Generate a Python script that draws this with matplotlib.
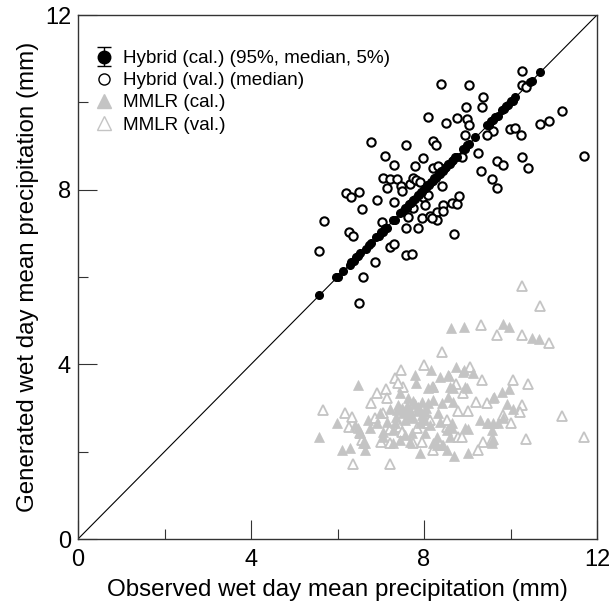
import matplotlib
matplotlib.use("Agg")
import matplotlib.pyplot as plt
from matplotlib.lines import Line2D
import numpy as np

plt.rcParams['font.family'] = ['Liberation Sans', 'DejaVu Sans']

# ---- data (mm) ----
hyb_cal_obs = [5.57, 5.97, 6.02, 6.12, 6.28, 6.32, 6.38, 6.43, 6.48, 6.52, 6.66, 6.72, 6.78,
               6.90, 6.95, 7.00, 7.05, 7.10, 7.14, 7.28, 7.32, 7.45, 7.50, 7.55, 7.60, 7.65,
               7.70, 7.75, 7.80, 7.85, 7.88, 7.92, 7.96, 8.00, 8.04, 8.08, 8.12, 8.16, 8.20,
               8.24, 8.28, 8.32, 8.36, 8.40, 8.44, 8.48, 8.52, 8.56, 8.60, 8.64, 8.68, 8.72,
               8.76, 8.90, 8.95, 9.00, 9.05, 9.18, 9.45, 9.50, 9.55, 9.60, 9.65, 9.70, 9.80,
               9.85, 9.90, 9.95, 10.00, 10.05, 10.10, 10.45, 10.50, 10.68]
hyb_cal_med = [5.59, 5.99, 6.01, 6.14, 6.27, 6.34, 6.37, 6.45, 6.47, 6.54, 6.65, 6.74, 6.77,
               6.92, 6.94, 7.02, 7.04, 7.12, 7.13, 7.30, 7.31, 7.47, 7.49, 7.57, 7.59, 7.67,
               7.69, 7.77, 7.79, 7.87, 7.87, 7.94, 7.95, 8.02, 8.03, 8.10, 8.11, 8.18, 8.19,
               8.26, 8.27, 8.34, 8.35, 8.42, 8.43, 8.50, 8.51, 8.58, 8.59, 8.66, 8.67, 8.74,
               8.75, 8.92, 8.94, 9.02, 9.04, 9.20, 9.47, 9.49, 9.57, 9.59, 9.67, 9.69, 9.82,
               9.84, 9.92, 9.94, 10.02, 10.04, 10.12, 10.47, 10.49, 10.70]
hyb_cal_err = 0.06

hyb_val_obs = [9.04, 10.27, 10.27, 10.36, 8.39, 9.36, 8.97, 9.34, 8.09, 8.51, 8.76, 8.99, 9.04,
               11.19, 10.89, 10.68, 9.99, 10.10, 10.24, 9.60, 9.46, 8.95, 6.77, 7.58, 8.21,
               8.28, 7.10, 7.31, 7.98, 7.79, 8.21, 8.32, 8.88, 9.25, 11.70, 9.69, 9.83, 10.27,
               10.40, 9.32, 9.57, 9.69, 7.05, 7.21, 7.38, 7.14, 7.47, 7.49, 7.68, 7.75, 7.82,
               7.91, 6.20, 6.31, 6.50, 6.57, 6.91, 7.31, 7.98, 8.09, 8.02, 7.75, 7.63, 7.95,
               8.14, 8.30, 8.44, 8.65, 8.76, 8.81, 8.30, 8.18, 7.58, 7.86, 7.03, 8.69, 5.69,
               6.27, 6.36, 5.57, 7.21, 7.31, 7.58, 7.72, 6.87, 6.59, 6.50, 8.42, 8.44]
hyb_val_med = [10.40, 10.72, 10.40, 10.35, 10.42, 10.12, 9.89, 9.89, 9.66, 9.53, 9.64, 9.62, 9.48,
               9.80, 9.57, 9.50, 9.39, 9.41, 9.25, 9.34, 9.25, 9.25, 9.09, 9.02, 9.11,
               9.02, 8.77, 8.56, 8.72, 8.54, 8.50, 8.54, 8.75, 8.84, 8.77, 8.66, 8.56, 8.75,
               8.50, 8.43, 8.24, 8.04, 8.27, 8.24, 8.24, 8.04, 8.08, 7.97, 8.13, 8.27, 8.22,
               8.18, 7.92, 7.83, 7.95, 7.56, 7.76, 7.72, 7.83, 7.88, 7.65, 7.58, 7.37, 7.35,
               7.40, 7.49, 7.65, 7.69, 7.67, 7.85, 7.30, 7.35, 7.12, 7.12, 7.26, 6.98, 7.28,
               7.03, 6.94, 6.59, 6.69, 6.76, 6.50, 6.53, 6.34, 6.00, 5.40, 8.08, 7.51]

mmlr_cal_obs = [8.62, 8.92, 9.83, 9.97, 10.50, 10.66, 6.47, 7.79, 8.16, 8.37, 8.58, 8.74, 8.92,
                9.13, 8.99, 9.62, 9.80, 9.97, 9.92, 10.06, 9.60, 9.48, 9.71, 5.99, 6.10, 6.29,
                5.57, 7.91, 8.69, 9.02, 8.30, 9.57, 7.28, 6.64, 9.60, 9.83, 9.29, 9.46, 9.57,
                9.02, 8.95, 8.65, 8.65, 8.60, 9.60, 8.42, 8.42, 8.55, 8.67, 8.67, 8.60, 8.95,
                8.90, 8.55, 7.82, 8.09, 8.21, 7.45, 7.63, 7.95, 8.21, 6.98, 7.21, 7.38, 7.51,
                7.68, 7.86, 8.02, 8.32, 6.71, 6.91, 7.14, 7.33, 7.56, 7.75, 7.91, 8.14, 8.37,
                6.40, 6.47, 6.52, 6.75, 7.05, 7.28, 7.56, 7.72, 8.02, 8.30, 8.53, 6.59, 7.05,
                7.45, 7.68, 8.21, 8.44, 6.64, 8.53, 7.60, 7.80, 7.95, 8.05, 7.70, 7.40, 7.85,
                7.50, 7.65, 7.90, 8.10, 7.35, 7.75, 8.00]
mmlr_cal_gen = [4.83, 4.85, 4.92, 4.85, 4.60, 4.58, 3.53, 3.76, 3.87, 3.71, 3.73, 3.94, 3.87,
                3.80, 3.46, 3.25, 3.37, 3.43, 3.09, 2.98, 2.66, 2.66, 2.66, 2.66, 2.04, 2.08,
                2.34, 1.97, 1.90, 1.97, 2.15, 2.20, 2.20, 2.20, 3.23, 2.77, 2.72, 2.66, 2.50,
                2.52, 2.54, 2.54, 2.66, 2.34, 2.29, 2.15, 3.11, 3.25, 3.14, 3.46, 3.48, 3.48,
                3.82, 3.76, 3.57, 3.46, 3.48, 3.34, 3.23, 3.14, 3.18, 2.89, 2.98, 2.95, 2.89,
                2.95, 3.02, 2.91, 2.89, 2.72, 2.66, 2.68, 2.66, 2.72, 2.77, 2.66, 2.61, 2.68,
                2.61, 2.54, 2.43, 2.54, 2.45, 2.50, 2.38, 2.43, 2.43, 2.34, 2.50, 2.20, 2.34,
                2.27, 2.22, 2.20, 2.15, 2.04, 2.04, 3.05, 3.10, 2.85, 3.00, 2.82, 3.08, 2.93,
                3.00, 2.88, 2.95, 3.12, 2.80, 3.15, 2.75]

mmlr_val_obs = [10.27, 10.68, 9.32, 9.69, 10.27, 10.89, 8.42, 8.00, 7.47, 7.33, 7.51, 9.06, 9.34,
                10.06, 10.40, 8.21, 8.74, 6.91, 7.12, 7.14, 6.77, 5.66, 6.17, 6.34, 6.87, 9.20,
                9.46, 9.02, 8.79, 10.27, 10.22, 9.83, 11.19, 10.01, 6.27, 6.52, 6.57, 7.01, 7.21,
                7.75, 8.21, 7.95, 8.79, 9.36, 9.57, 10.36, 11.70, 9.25, 6.36, 7.21, 8.53, 7.45,
                8.09, 7.40, 7.21, 7.05, 8.14, 7.84, 7.49, 8.90, 8.53, 8.88]
mmlr_val_gen = [5.79, 5.34, 4.90, 4.67, 4.67, 4.49, 4.28, 3.98, 3.87, 3.69, 3.48, 3.94, 3.64,
                3.64, 3.55, 3.48, 3.55, 3.34, 3.43, 3.23, 3.11, 2.95, 2.89, 2.79, 2.77, 3.14,
                3.11, 2.93, 2.93, 3.07, 2.91, 2.84, 2.82, 2.66, 2.56, 2.43, 2.27, 2.22, 2.20,
                2.20, 2.04, 2.22, 2.34, 2.22, 2.27, 2.29, 2.34, 2.04, 1.72, 1.72, 2.56, 2.56,
                2.66, 3.57, 2.52, 2.89, 2.72, 2.54, 2.45, 3.34, 2.72, 2.34]

axis_lim = [0, 12]
major_ticks = [0, 4, 8, 12]
minor_ticks = [2, 6, 10]

# ---- figure ----
fig = plt.figure(figsize=(6.16, 6.05), dpi=100)
ax = fig.add_axes([78 / 616, 1 - 539 / 605, (597 - 78) / 616, (539 - 15) / 605])

gray = '#c4c4c4'
ax.plot(axis_lim, axis_lim, color='black', lw=0.8, zorder=1)

ax.plot(mmlr_val_obs, mmlr_val_gen, linestyle='none', marker='^', ms=7.5,
        mfc='white', mec=gray, mew=1.3, zorder=2)
ax.plot(mmlr_cal_obs, mmlr_cal_gen, linestyle='none', marker='^', ms=7,
        mfc=gray, mec=gray, mew=0.5, zorder=3)
ax.plot(hyb_val_obs, hyb_val_med, linestyle='none', marker='o', ms=6,
        mfc='white', mec='black', mew=1.5, zorder=4)
ax.errorbar(hyb_cal_obs, hyb_cal_med, yerr=hyb_cal_err, fmt='o', ms=5.5,
            color='black', ecolor='black', elinewidth=0.8, capsize=0, zorder=5)

ax.set_xlim(axis_lim)
ax.set_ylim(axis_lim)
ax.set_xticks(major_ticks)
ax.set_yticks(major_ticks)
ax.set_xticks(minor_ticks, minor=True)
ax.set_yticks(minor_ticks, minor=True)
ax.tick_params(which='both', direction='in', top=False, right=False,
               labelsize=17, width=0.8, color='#333333')
ax.tick_params(axis='x', which='both', pad=7)
ax.tick_params(axis='y', which='both', pad=5)
ax.tick_params(which='major', length=14)
ax.tick_params(which='minor', length=7)
for s in ax.spines.values():
    s.set_linewidth(1.0)
    s.set_color('#333333')

ax.set_xlabel('Observed wet day mean precipitation (mm)', fontsize=17.4, labelpad=6)
ax.set_ylabel('Generated wet day mean precipitation (mm)', fontsize=17.4, labelpad=4)

# legend
h1 = ax.errorbar([np.nan], [np.nan], yerr=[1.0], fmt='o', ms=9, color='black',
                 elinewidth=1, capsize=5, capthick=1)
h2 = Line2D([], [], linestyle='none', marker='o', ms=8, mfc='white', mec='black', mew=1)
h3 = Line2D([], [], linestyle='none', marker='^', ms=10, mfc=gray, mec=gray)
h4 = Line2D([], [], linestyle='none', marker='^', ms=10, mfc='white', mec=gray, mew=1)
ax.legend([h1, h2, h3, h4],
          ['Hybrid (cal.) (95%, median, 5%)', 'Hybrid (val.) (median)',
           'MMLR (cal.)', 'MMLR (val.)'],
          loc='upper left', bbox_to_anchor=(0.01, 0.955), frameon=False,
          fontsize=13.6, handlelength=1.0, handletextpad=0.5, labelspacing=0.26,
          borderaxespad=0.2)

fig.savefig('out.png', dpi=100)
